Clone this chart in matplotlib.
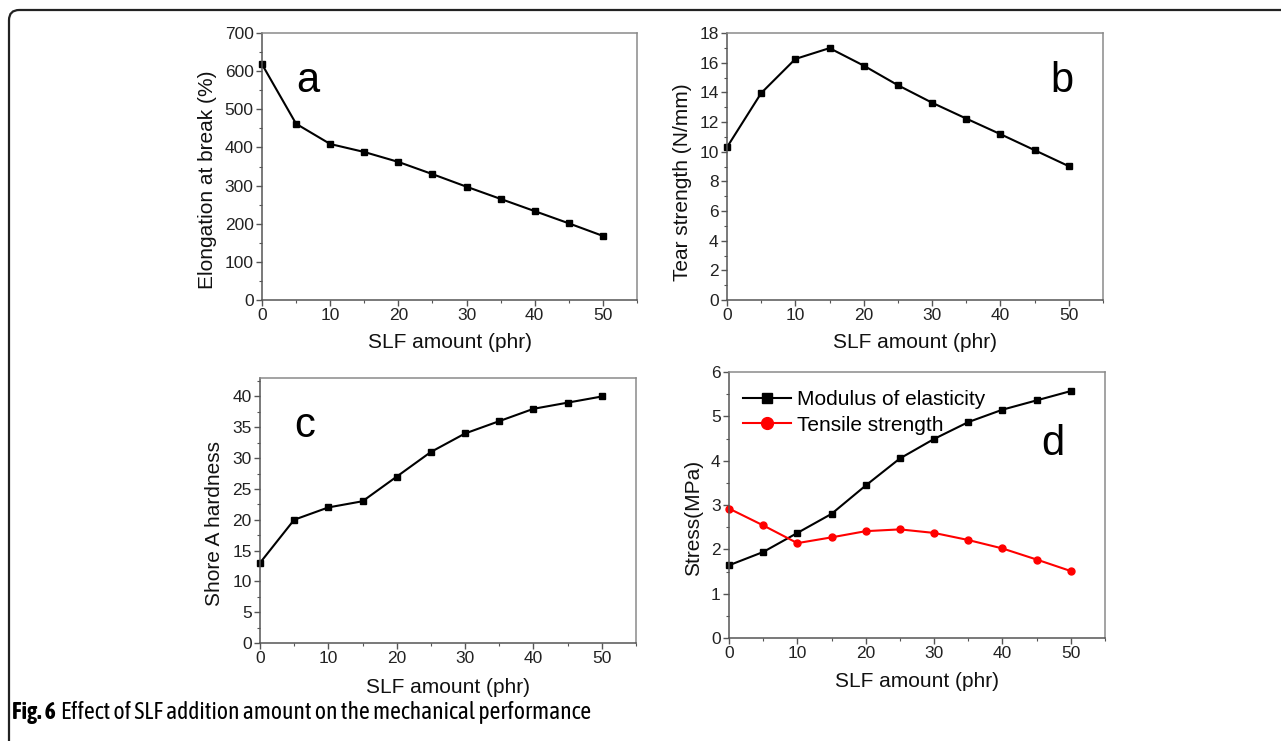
import numpy as np
import matplotlib
matplotlib.use('Agg')
import matplotlib.pyplot as plt
from matplotlib.ticker import MultipleLocator
from matplotlib.patches import FancyBboxPatch
from matplotlib import font_manager

plt.rcParams['font.family'] = ['Liberation Sans', 'DejaVu Sans']

# data
slf = [0, 5, 10, 15, 20, 25, 30, 35, 40, 45, 50]
elongation = [618, 462, 409, 388, 362, 330, 297, 265, 233, 201, 168]
tear = [10.3, 13.95, 16.25, 16.98, 15.8, 14.48, 13.3, 12.23, 11.18, 10.1, 9.02]
hardness = [13, 20, 22, 23, 27, 31, 34, 36, 38, 39, 40]
modulus = [1.64, 1.94, 2.37, 2.8, 3.44, 4.05, 4.49, 4.87, 5.15, 5.36, 5.57]
tensile = [2.92, 2.54, 2.14, 2.27, 2.41, 2.45, 2.37, 2.21, 2.02, 1.77, 1.51]

W, H = 1281, 741
fig = plt.figure(figsize=(W / 100, H / 100), dpi=100)


def px_axes(left, top, right, bottom):
    return fig.add_axes([left / W, (H - bottom) / H, (right - left) / W, (bottom - top) / H])


def style(ax, ymax, ymaj, ymin, ylabel, ylab_xy, xlab_y):
    ax.set_xlim(0, 55)
    ax.set_ylim(0, ymax)
    ax.xaxis.set_major_locator(MultipleLocator(10))
    ax.xaxis.set_minor_locator(MultipleLocator(5))
    ax.yaxis.set_major_locator(MultipleLocator(ymaj))
    ax.yaxis.set_minor_locator(MultipleLocator(ymin))
    ax.tick_params(which='major', direction='out', length=4, width=1, color='#555555',
                   labelsize=12.5, labelcolor='#222222', pad=2)
    ax.tick_params(which='minor', direction='out', length=2.5, width=0.8, color='#555555')
    ax.tick_params(top=False, right=False)
    for s in ['left', 'bottom']:
        ax.spines[s].set_color('#555555')
        ax.spines[s].set_linewidth(1.1)
    for s in ['top', 'right']:
        ax.spines[s].set_color('#8a8a8a')
        ax.spines[s].set_linewidth(1.1)
    ax.set_xlabel('SLF amount (phr)', fontsize=15, color='#111111')
    ax.set_ylabel(ylabel, fontsize=15, color='#111111')
    ax.xaxis.set_label_coords(0.5, xlab_y)
    ax.yaxis.set_label_coords(*ylab_xy)


lw = 1.5
ms = 4

ax1 = px_axes(262, 33, 637, 300)
ax1.plot(slf, elongation, color='black', lw=lw, marker='s', ms=ms, clip_on=False)
style(ax1, 700, 100, 50, 'Elongation at break (%)', (-0.12, 0.45), -0.124)
ax1.text(0.123, 0.82, 'a', transform=ax1.transAxes, fontsize=30, ha='center', va='center')

ax2 = px_axes(727, 33, 1103, 300)
ax2.plot(slf, tear, color='black', lw=lw, marker='s', ms=ms, clip_on=False)
style(ax2, 18, 2, 1, 'Tear strength (N/mm)', (-0.093, 0.44), -0.124)
ax2.text(0.89, 0.82, 'b', transform=ax2.transAxes, fontsize=30, ha='center', va='center')

ax3 = px_axes(260, 378, 636, 643)
ax3.plot(slf, hardness, color='black', lw=lw, marker='s', ms=ms, clip_on=False)
style(ax3, 43, 5, 2.5, 'Shore A hardness', (-0.096, 0.45), -0.132)
ax3.text(0.12, 0.82, 'c', transform=ax3.transAxes, fontsize=30, ha='center', va='center')

ax4 = px_axes(729, 372, 1105, 638)
ax4.plot(slf, modulus, color='black', lw=lw, marker='s', ms=ms, clip_on=False,
         label='Modulus of elasticity')
ax4.plot(slf, tensile, color='#ff0000', lw=lw, marker='o', ms=5, clip_on=False,
         label='Tensile strength')
style(ax4, 6, 1, 0.5, 'Stress(MPa)', (-0.069, 0.45), -0.128)
ax4.text(0.86, 0.73, 'd', transform=ax4.transAxes, fontsize=30, ha='center', va='center')
leg = ax4.legend(loc='upper left', bbox_to_anchor=(0.01, 0.97), frameon=False, fontsize=15,
                 handlelength=2.3, handletextpad=0.3, borderpad=0, labelspacing=0.3,
                 markerscale=1.7)

# outer frame with a rounded top-left corner
frame = FancyBboxPatch((9 / W, -0.2), 1.2, (H - 10) / H + 0.2,
                       boxstyle='round,pad=0,rounding_size=0.008',
                       transform=fig.transFigure, fill=False, lw=1.6, ec='#222222',
                       mutation_aspect=W / H)
fig.patches.append(frame)

# caption, in a narrow face when one is installed (prefer one with a bold weight)
names = {}
for f in font_manager.fontManager.ttflist:
    if 'Narrow' in f.name or 'Condensed' in f.name:
        names.setdefault(f.name, set()).add(f.weight)
narrow = None
if 'Liberation Sans Narrow' in names:
    narrow = 'Liberation Sans Narrow'
else:
    for n, wts in names.items():
        if any(w in (700, 'bold') for w in wts):
            narrow = n
            break
    if narrow is None and names:
        narrow = list(names)[0]
cap_font = [narrow, 'Liberation Sans'] if narrow else ['Liberation Sans']
cap_size = 17 if narrow else 11.5

cap_y = 1 - 712 / H
t1 = fig.text(12 / W, cap_y, 'Fig. 6', fontsize=cap_size, fontweight='bold',
              va='center', family=cap_font)
fig.canvas.draw()
bb = t1.get_window_extent()
fig.text((bb.x1 + 5) / W, cap_y, 'Effect of SLF addition amount on the mechanical performance',
         fontsize=cap_size, va='center', family=cap_font)

fig.savefig('out.png', dpi=100)
